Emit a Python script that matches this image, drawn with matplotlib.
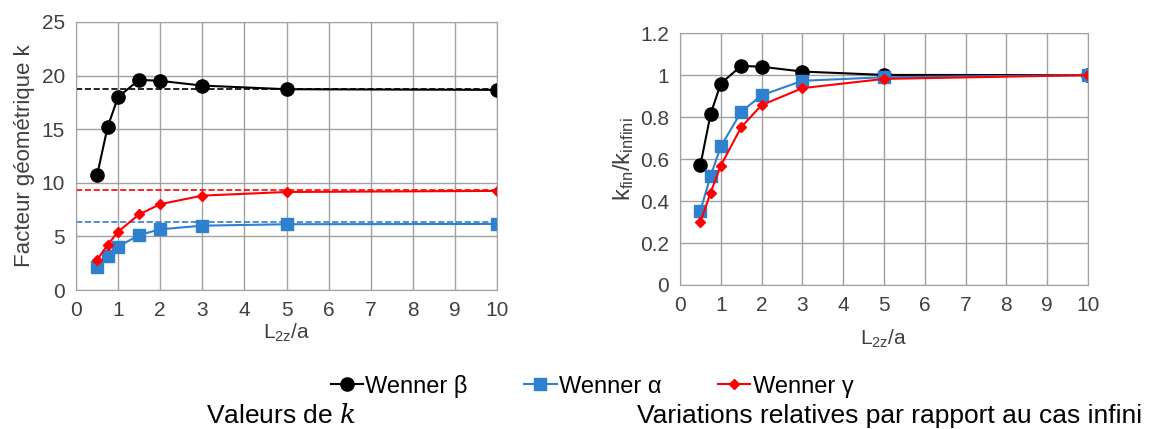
import matplotlib.pyplot as plt

plt.rcParams['font.family'] = ['Liberation Sans', 'DejaVu Sans']
plt.rcParams['mathtext.fontset'] = 'dejavuserif'

# Données
x = [0.5, 0.75, 1, 1.5, 2, 3, 5, 10]

k_beta = [10.7, 15.2, 18.0, 19.6, 19.5, 19.06, 18.72, 18.66]
k_alpha = [2.1, 3.17, 4.04, 5.13, 5.66, 6.0, 6.13, 6.16]
k_gamma = [2.8, 4.2, 5.44, 7.06, 8.0, 8.8, 9.14, 9.24]

k_inf_beta = 18.78
k_inf_alpha = 6.3
k_inf_gamma = 9.33

r_beta = [0.571, 0.814, 0.96, 1.044, 1.04, 1.017, 1.001, 1.0]
r_alpha = [0.354, 0.52, 0.66, 0.825, 0.904, 0.973, 0.99, 1.0]
r_gamma = [0.30, 0.44, 0.569, 0.752, 0.857, 0.938, 0.982, 1.0]

xticks = list(range(0, 11))
yticks_left = [0, 5, 10, 15, 20, 25]
yticks_right = [0, 0.2, 0.4, 0.6, 0.8, 1.0, 1.2]
yticklabels_right = ['0', '0.2', '0.4', '0.6', '0.8', '1', '1.2']

c_beta = 'black'
c_alpha = '#3080d0'
c_gamma = '#ff0000'
c_txt = '#404040'

fig = plt.figure(figsize=(11.61, 4.29), dpi=100)
ax1 = fig.add_axes([0.0655, 0.324, 0.3626, 0.625])
ax2 = fig.add_axes([0.5857, 0.3357, 0.3514, 0.587])


def style(ax, pad):
    ax.set_xlim(0, 10)
    ax.set_xticks(xticks)
    ax.grid(True, color='#a0a0a0', linewidth=1.0)
    ax.set_axisbelow(True)
    for s in ax.spines.values():
        s.set_color('#a0a0a0')
    ax.tick_params(length=0, labelsize=15, colors=c_txt, pad=8)
    ax.set_xlabel('L$_{\\mathregular{2z}}$/a', fontsize=15, color=c_txt, labelpad=pad)


# --- Valeurs de k ---
ax1.plot([0, 10], [k_inf_beta] * 2, '--', color=c_beta, lw=1.2)
ax1.plot([0, 10], [k_inf_gamma] * 2, '--', color=c_gamma, lw=1.2)
ax1.plot([0, 10], [k_inf_alpha] * 2, '--', color=c_alpha, lw=1.2)
l1, = ax1.plot(x, k_beta, '-o', color=c_beta, ms=9.5, lw=1.5, label='Wenner β')
l2, = ax1.plot(x, k_alpha, '-s', color=c_alpha, ms=8.5, lw=1.5, label='Wenner α')
l3, = ax1.plot(x, k_gamma, '-D', color=c_gamma, ms=5, lw=1.5, label='Wenner γ')
ax1.set_ylim(0, 25)
ax1.set_yticks(yticks_left)
style(ax1, 1)
ax1.set_ylabel('Facteur géométrique k', fontsize=16, color=c_txt, labelpad=5)

# --- Variations relatives ---
ax2.plot(x, r_beta, '-o', color=c_beta, ms=9.5, lw=1.5)
ax2.plot(x, r_alpha, '-s', color=c_alpha, ms=8.5, lw=1.5)
ax2.plot(x, r_gamma, '-D', color=c_gamma, ms=5, lw=1.5)
ax2.set_ylim(0, 1.2)
ax2.set_yticks(yticks_right)
ax2.set_yticklabels(yticklabels_right)
style(ax2, 9)
ax2.set_ylabel('k$_{\\mathregular{fin}}$/k$_{\\mathregular{infini}}$', fontsize=17, color=c_txt, labelpad=3)

fig.legend(handles=[l1, l2, l3], loc='center', bbox_to_anchor=(0.510, 0.100), ncol=3,
           frameon=False, fontsize=17, handlelength=1.36, handletextpad=0.1, columnspacing=2.4)

fig.text(0.242, 0.013, 'Valeurs de $k$', fontsize=19, ha='center', va='baseline')
fig.text(0.766, 0.013, 'Variations relatives par rapport au cas infini', fontsize=19,
         ha='center', va='baseline')

plt.savefig('out.png', dpi=100)
